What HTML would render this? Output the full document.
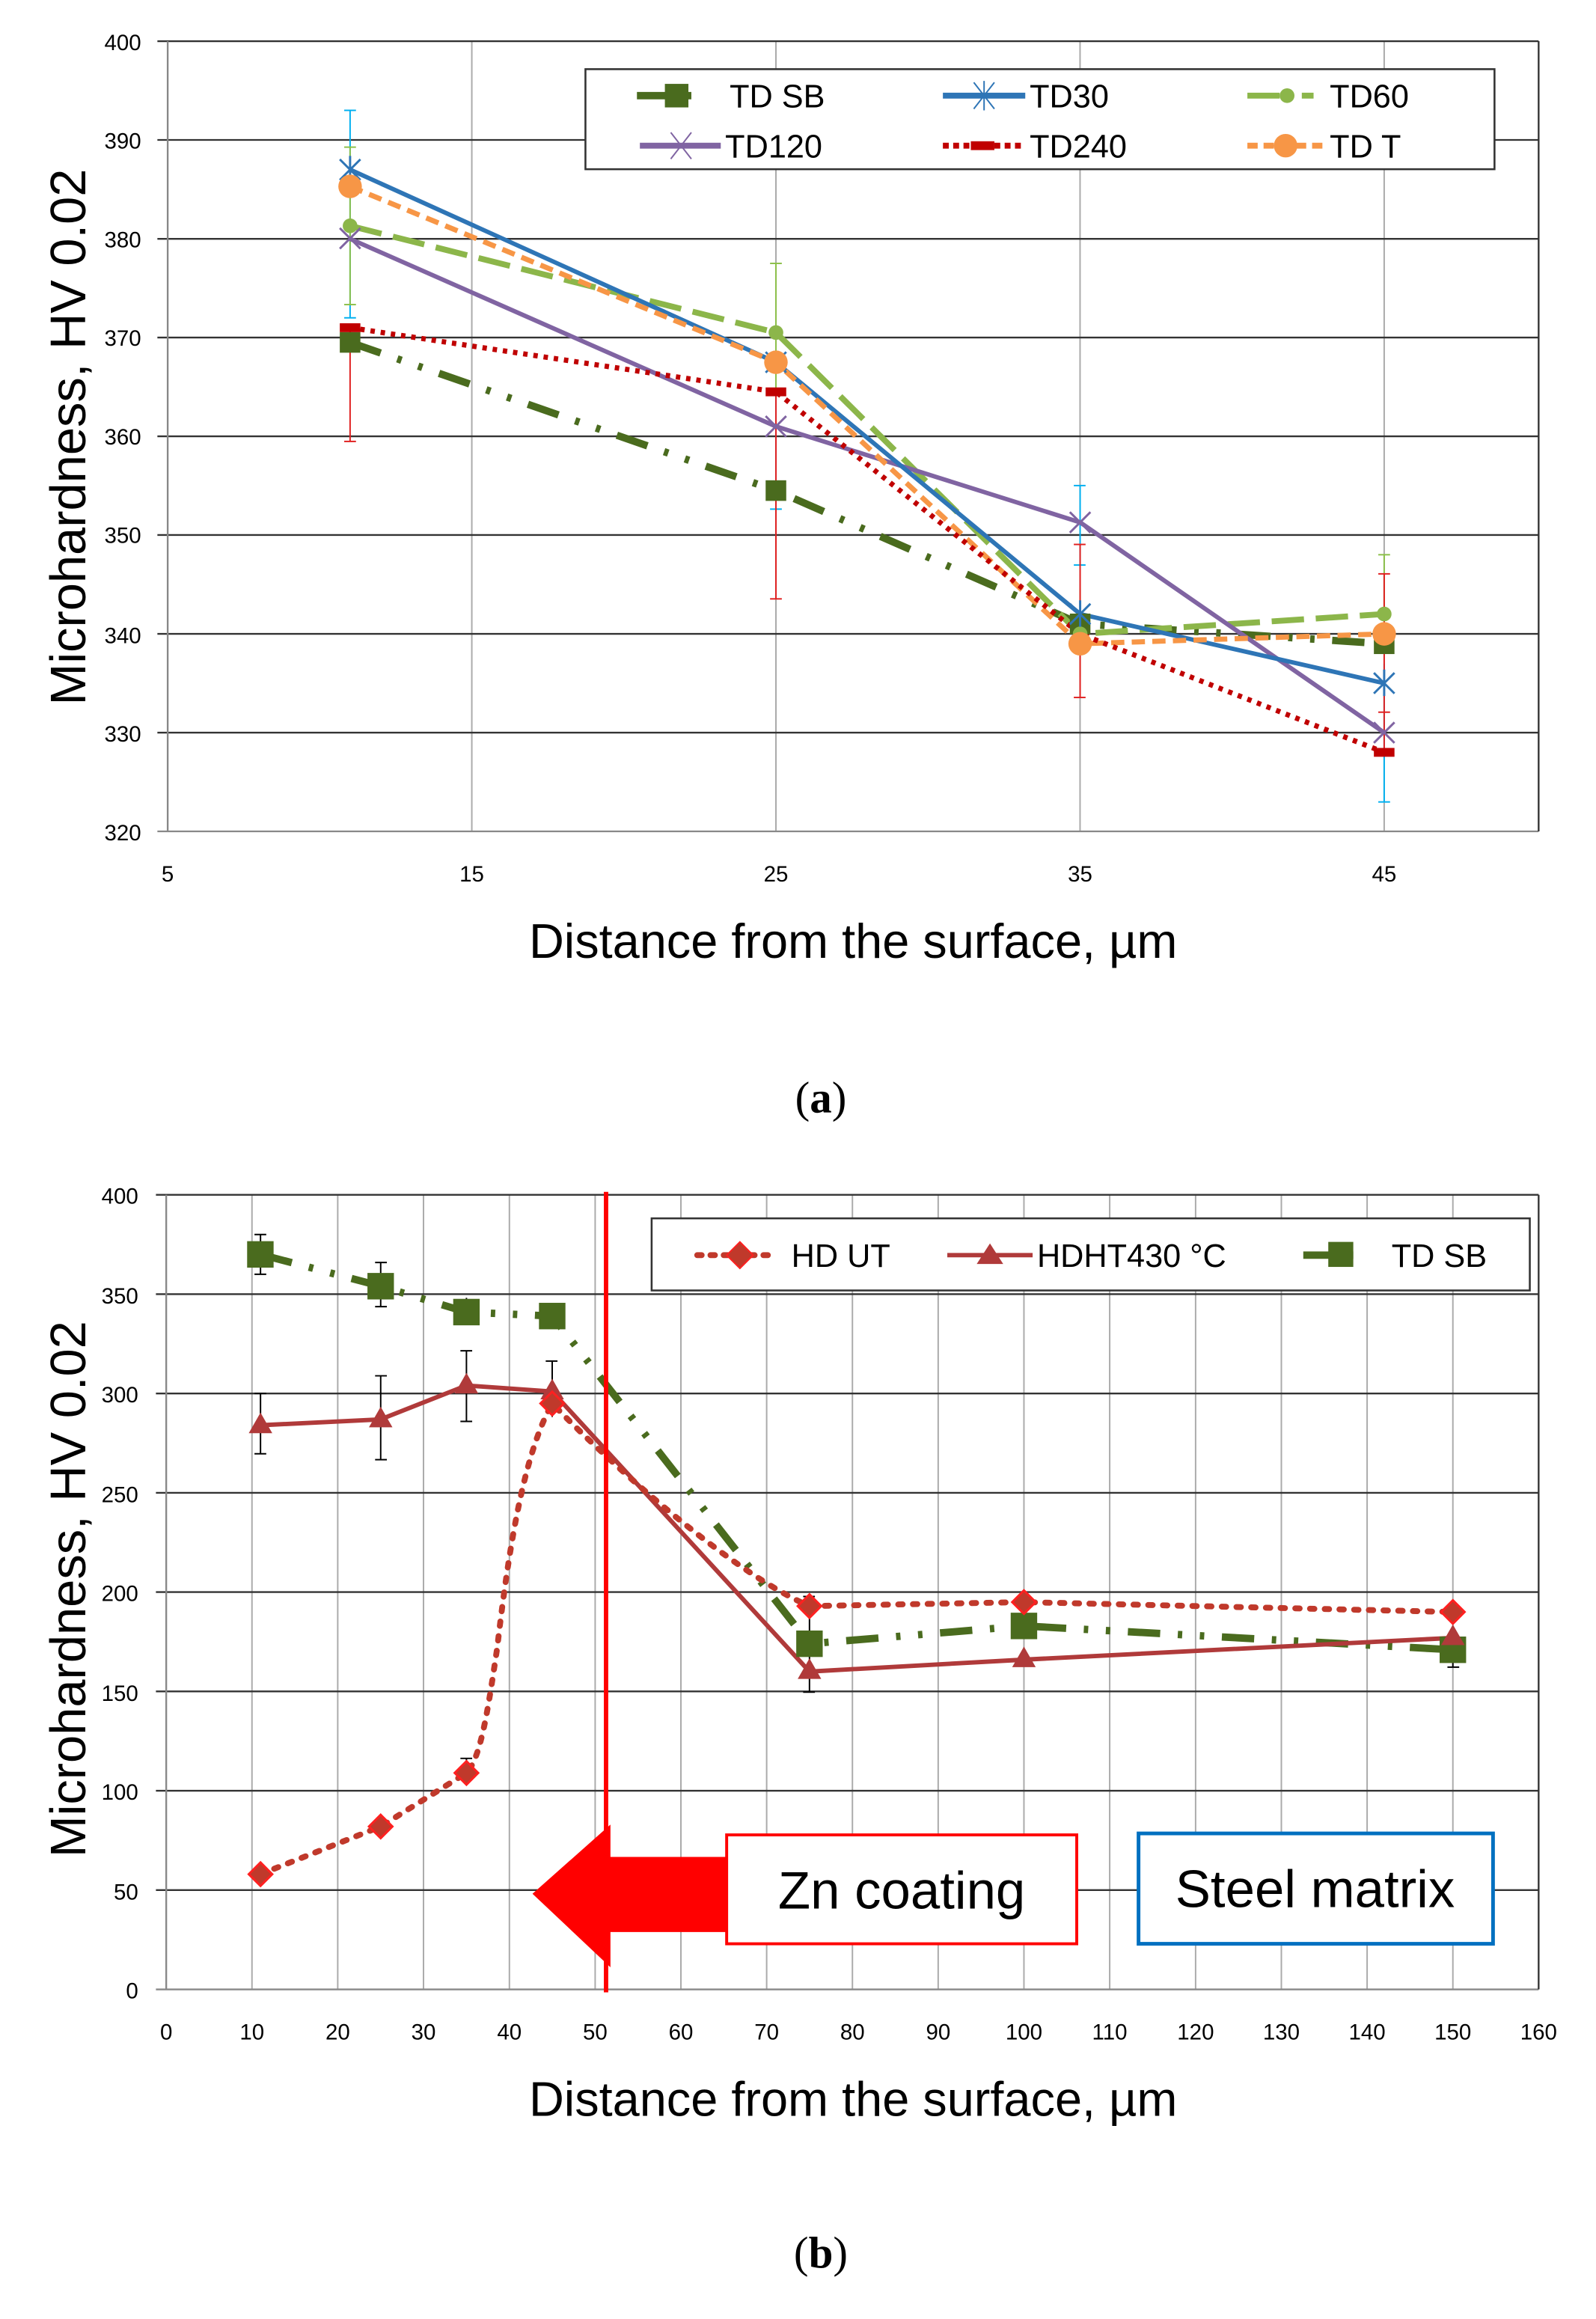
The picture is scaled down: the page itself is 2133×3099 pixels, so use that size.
<!DOCTYPE html>
<html><head><meta charset="utf-8"><style>
html,body{margin:0;padding:0;background:#fff;}
svg{display:block;}
text{font-family:"Liberation Sans",sans-serif;}
</style></head><body>
<svg width="2133" height="3099" viewBox="0 0 1085 1576" preserveAspectRatio="none" xmlns="http://www.w3.org/2000/svg">
<rect width="1085" height="1576" fill="#fff"/>
<!-- ===== TOP CHART ===== -->
<g stroke="#aaa" stroke-width="1">
<line x1="320.75" y1="28" x2="320.75" y2="565"/><line x1="527.5" y1="28" x2="527.5" y2="565"/><line x1="734.25" y1="28" x2="734.25" y2="565"/><line x1="941" y1="28" x2="941" y2="565"/>
</g>
<g stroke="#333" stroke-width="1.2">
<line x1="107" y1="28" x2="1046" y2="28"/><line x1="107" y1="95.1" x2="1046" y2="95.1"/><line x1="107" y1="162.3" x2="1046" y2="162.3"/><line x1="107" y1="229.4" x2="1046" y2="229.4"/><line x1="107" y1="296.5" x2="1046" y2="296.5"/><line x1="107" y1="363.6" x2="1046" y2="363.6"/><line x1="107" y1="430.8" x2="1046" y2="430.8"/><line x1="107" y1="497.9" x2="1046" y2="497.9"/>
<line x1="107" y1="565" x2="1046" y2="565" stroke="#888"/>
<line x1="114" y1="28" x2="114" y2="565" stroke="#888"/><line x1="1046" y1="28" x2="1046" y2="565"/>
</g>
<g font-size="15" fill="#000" text-anchor="end">
<text x="96" y="34">400</text><text x="96" y="101">390</text><text x="96" y="168">380</text><text x="96" y="235">370</text><text x="96" y="302">360</text><text x="96" y="369">350</text><text x="96" y="437">340</text><text x="96" y="504">330</text><text x="96" y="571">320</text>
</g>
<g font-size="15" fill="#000" text-anchor="middle">
<text x="114" y="599">5</text><text x="320.75" y="599">15</text><text x="527.5" y="599">25</text><text x="734.25" y="599">35</text><text x="941" y="599">45</text>
</g>
<text x="58" y="297" font-size="34" text-anchor="middle" transform="rotate(-90 58 297)">Microhardness, HV 0.02</text>
<text x="580" y="651" font-size="33" text-anchor="middle">Distance from the surface, µm</text>
<text x="558" y="756" font-size="30" text-anchor="middle" style="font-family:'Liberation Serif',serif">(<tspan font-weight="bold">a</tspan>)</text>
<!-- error bars -->
<g stroke-width="1">
<g stroke="#00b0f0"><line x1="238" y1="75" x2="238" y2="216"/><line x1="234" y1="75" x2="242" y2="75"/><line x1="234" y1="216" x2="242" y2="216"/>
<line x1="527.5" y1="262" x2="527.5" y2="346"/><line x1="523.5" y1="346" x2="531.5" y2="346"/>
<line x1="734.3" y1="330" x2="734.3" y2="384"/><line x1="730" y1="330" x2="738" y2="330"/><line x1="730" y1="384" x2="738" y2="384"/>
<line x1="941" y1="451" x2="941" y2="545"/><line x1="937" y1="545" x2="945" y2="545"/></g>
<g stroke="#8cc04a"><line x1="238" y1="100" x2="238" y2="207"/><line x1="234" y1="100" x2="242" y2="100"/><line x1="234" y1="207" x2="242" y2="207"/>
<line x1="527.5" y1="179" x2="527.5" y2="270"/><line x1="523.5" y1="179" x2="531.5" y2="179"/>
<line x1="734.3" y1="400" x2="734.3" y2="460"/><line x1="941" y1="377" x2="941" y2="430"/><line x1="937" y1="377" x2="945" y2="377"/></g>
<g stroke="#e02020"><line x1="238" y1="222" x2="238" y2="300"/><line x1="234" y1="300" x2="242" y2="300"/>
<line x1="527.5" y1="266" x2="527.5" y2="407"/><line x1="523.5" y1="407" x2="531.5" y2="407"/>
<line x1="734.3" y1="370" x2="734.3" y2="474"/><line x1="730" y1="474" x2="738" y2="474"/><line x1="730" y1="370" x2="738" y2="370"/>
<line x1="941" y1="390" x2="941" y2="511"/><line x1="937" y1="390" x2="945" y2="390"/><line x1="937" y1="484" x2="945" y2="484"/></g>
</g>
<!-- series -->
<polyline points="238,232.7 527.5,333.4 734.3,424 941,437.5" fill="none" stroke="#4a6b1e" stroke-width="5" stroke-dasharray="22,12,3,12,3,12"/>
<polyline points="238,153.5 527.5,226 734.3,430.8 941,417.3" fill="none" stroke="#8cb64a" stroke-width="4" stroke-dasharray="22,8"/>
<polyline points="238,162.3 527.5,289.8 734.3,355 941,497.9" fill="none" stroke="#8064a2" stroke-width="3"/>
<polyline points="238,115.3 527.5,246.2 734.3,417.3 941,464.3" fill="none" stroke="#2e75b6" stroke-width="3"/>
<polyline points="238,126.7 527.5,246.2 734.3,437.5 941,430.8" fill="none" stroke="#f79646" stroke-width="3.5" stroke-dasharray="9,5"/>
<polyline points="238,222.7 527.5,266.3 734.3,430.8 941,511.3" fill="none" stroke="#c00000" stroke-width="3.5" stroke-dasharray="3,4"/>
<!-- markers -->
<g fill="#4a6b1e"><rect x="231" y="225.7" width="14" height="14"/><rect x="520.5" y="326.4" width="14" height="14"/><rect x="727.3" y="417" width="14" height="14"/><rect x="934" y="430.5" width="14" height="14"/></g>
<g fill="#8cb64a"><circle cx="238" cy="153.5" r="5"/><circle cx="527.5" cy="226" r="5"/><circle cx="734.3" cy="430.8" r="5"/><circle cx="941" cy="417.3" r="5"/></g>
<g stroke="#8064a2" stroke-width="1.5"><path d="M231,155l14,14M245,155l-14,14M520.5,282.8l14,14M534.5,282.8l-14,14M727.3,348l14,14M741.3,348l-14,14M934,490.9l14,14M948,490.9l-14,14"/></g>
<g stroke="#2e75b6" stroke-width="1.5"><path d="M231,108.3l14,14M245,108.3l-14,14M238,106v18M520.5,239.2l14,14M534.5,239.2l-14,14M727.3,410.3l14,14M741.3,410.3l-14,14M734.3,408v18M934,457.3l14,14M948,457.3l-14,14M941,455v18"/></g>
<g fill="#f79646"><circle cx="238" cy="126.7" r="8"/><circle cx="527.5" cy="246.2" r="8"/><circle cx="734.3" cy="437.5" r="8"/><circle cx="941" cy="430.8" r="8"/></g>
<g fill="#c00000"><rect x="231" y="219.7" width="14" height="6"/><rect x="520.5" y="263.3" width="14" height="6"/><rect x="934" y="508.3" width="14" height="6"/></g>
<!-- legend -->
<rect x="398" y="47" width="618" height="68" fill="#fff" stroke="#333" stroke-width="1.3"/>
<g font-size="22" fill="#000">
<line x1="433" y1="65" x2="470" y2="65" stroke="#4a6b1e" stroke-width="5"/><rect x="452" y="57" width="16" height="16" fill="#4a6b1e"/><text x="496" y="73">TD SB</text>
<line x1="641" y1="65" x2="697" y2="65" stroke="#2e75b6" stroke-width="4"/><path d="M662,56l14,18M676,56l-14,18M669,55v20" stroke="#2e75b6" stroke-width="1"/><text x="700" y="73">TD30</text>
<line x1="848" y1="65" x2="870" y2="65" stroke="#8cb64a" stroke-width="4"/><circle cx="875" cy="65" r="5" fill="#8cb64a"/><line x1="885" y1="65" x2="893" y2="65" stroke="#8cb64a" stroke-width="4"/><text x="904" y="73">TD60</text>
<line x1="435" y1="99" x2="490" y2="99" stroke="#8064a2" stroke-width="4"/><path d="M456,90l14,18M470,90l-14,18" stroke="#8064a2" stroke-width="1"/><text x="493" y="107">TD120</text>
<line x1="641" y1="99" x2="697" y2="99" stroke="#c00000" stroke-width="4" stroke-dasharray="4,3"/><rect x="660" y="96" width="16" height="6" fill="#c00000"/><text x="700" y="107">TD240</text>
<line x1="848" y1="99" x2="900" y2="99" stroke="#f79646" stroke-width="4" stroke-dasharray="7,4"/><circle cx="874" cy="99" r="8" fill="#f79646"/><text x="904" y="107">TD T</text>
</g>

<!-- ===== BOTTOM CHART ===== -->
<g stroke="#aaa" stroke-width="1">
<line x1="171.3" y1="812" x2="171.3" y2="1352"/><line x1="229.6" y1="812" x2="229.6" y2="1352"/><line x1="287.9" y1="812" x2="287.9" y2="1352"/><line x1="346.3" y1="812" x2="346.3" y2="1352"/><line x1="404.6" y1="812" x2="404.6" y2="1352"/><line x1="462.9" y1="812" x2="462.9" y2="1352"/><line x1="521.2" y1="812" x2="521.2" y2="1352"/><line x1="579.5" y1="812" x2="579.5" y2="1352"/><line x1="637.8" y1="812" x2="637.8" y2="1352"/><line x1="696.1" y1="812" x2="696.1" y2="1352"/><line x1="754.4" y1="812" x2="754.4" y2="1352"/><line x1="812.8" y1="812" x2="812.8" y2="1352"/><line x1="871.1" y1="812" x2="871.1" y2="1352"/><line x1="929.4" y1="812" x2="929.4" y2="1352"/><line x1="987.7" y1="812" x2="987.7" y2="1352"/>
</g>
<g stroke="#333" stroke-width="1.2">
<line x1="106" y1="812" x2="1046" y2="812"/><line x1="106" y1="879.5" x2="1046" y2="879.5"/><line x1="106" y1="947" x2="1046" y2="947"/><line x1="106" y1="1014.5" x2="1046" y2="1014.5"/><line x1="106" y1="1082" x2="1046" y2="1082"/><line x1="106" y1="1149.5" x2="1046" y2="1149.5"/><line x1="106" y1="1217" x2="1046" y2="1217"/><line x1="106" y1="1284.5" x2="1046" y2="1284.5"/>
<line x1="106" y1="1352" x2="1046" y2="1352" stroke="#888"/><line x1="113" y1="812" x2="113" y2="1352" stroke="#888"/><line x1="1046" y1="812" x2="1046" y2="1352"/>
</g>
<g font-size="15" fill="#000" text-anchor="end">
<text x="94" y="818">400</text><text x="94" y="886">350</text><text x="94" y="953">300</text><text x="94" y="1021">250</text><text x="94" y="1088">200</text><text x="94" y="1156">150</text><text x="94" y="1223">100</text><text x="94" y="1291">50</text><text x="94" y="1358">0</text>
</g>
<g font-size="15" fill="#000" text-anchor="middle">
<text x="113" y="1386">0</text><text x="171.3" y="1386">10</text><text x="229.6" y="1386">20</text><text x="287.9" y="1386">30</text><text x="346.3" y="1386">40</text><text x="404.6" y="1386">50</text><text x="462.9" y="1386">60</text><text x="521.2" y="1386">70</text><text x="579.5" y="1386">80</text><text x="637.8" y="1386">90</text><text x="696.1" y="1386">100</text><text x="754.4" y="1386">110</text><text x="812.8" y="1386">120</text><text x="871.1" y="1386">130</text><text x="929.4" y="1386">140</text><text x="987.7" y="1386">150</text><text x="1046" y="1386">160</text>
</g>
<text x="58" y="1080" font-size="34" text-anchor="middle" transform="rotate(-90 58 1080)">Microhardness, HV 0.02</text>
<text x="580" y="1438" font-size="33" text-anchor="middle">Distance from the surface, µm</text>
<text x="558" y="1541" font-size="30" text-anchor="middle" style="font-family:'Liberation Serif',serif">(<tspan font-weight="bold">b</tspan>)</text>
<!-- error bars black -->
<g stroke="#000" stroke-width="1">
<path d="M177.1,839v27M173,839h8M173,866h8M258.8,858v30M255,858h8M255,888h8M317.1,882v17M375.4,888v12M177.1,947v41M173,947h8M173,988h8M258.8,935v57M255,935h8M255,992h8M317.1,918v48M313,918h8M313,966h8M375.4,925v38M371,925h8M550.3,1085v65M546,1085h8M546,1150h8M987.7,1108v25M984,1133h8M317.1,1195v18M313,1195h8M258.8,1234v15M177.1,1267v12"/>
</g>
<!-- series -->
<polyline points="177.1,852.5 258.8,874.1 317.1,891.7 375.4,894.4 550.3,1117.1 696.1,1105 987.7,1121.2" fill="none" stroke="#4a6b1e" stroke-width="5" stroke-dasharray="22,12,3,12,3,12"/>
<polyline points="177.1,968.6 258.8,964.6 317.1,941.6 375.4,945.7 550.3,1136 696.1,1127.9 987.7,1113.1" fill="none" stroke="#b03a3a" stroke-width="3"/>
<path d="M177.1,1273.7 L258.8,1241.3 L317.1,1204.9 C327,1195 332,1160 338,1120 C345,1060 355,990 375.4,953.8 C420,1000 500,1070 550.3,1091.5 L696.1,1088.8 L987.7,1095.5" fill="none" stroke="#c0392b" stroke-width="4" stroke-dasharray="3,7" stroke-linecap="round"/>
<!-- markers -->
<g fill="#4a6b1e"><rect x="168" y="843.5" width="18" height="18"/><rect x="249.8" y="865.1" width="18" height="18"/><rect x="308.1" y="882.7" width="18" height="18"/><rect x="366.4" y="885.4" width="18" height="18"/><rect x="541.3" y="1108.1" width="18" height="18"/><rect x="687.1" y="1096" width="18" height="18"/><rect x="978.7" y="1112.2" width="18" height="18"/></g>
<g fill="#b03a3a"><path d="M177.1,960l-8,14h16z M258.8,956l-8,14h16z M317.1,933l-8,14h16z M375.4,937l-8,14h16z M550.3,1127l-8,14h16z M696.1,1119l-8,14h16z M987.7,1104l-8,14h16z"/></g>
<g fill="#c0392b" stroke="#ff2020" stroke-width="1.5"><path d="M177.1,1265.7l8,8l-8,8l-8,-8z M258.8,1233.3l8,8l-8,8l-8,-8z M317.1,1196.9l8,8l-8,8l-8,-8z M375.4,945.8l8,8l-8,8l-8,-8z M550.3,1083.5l8,8l-8,8l-8,-8z M696.1,1080.8l8,8l-8,8l-8,-8z M987.7,1087.5l8,8l-8,8l-8,-8z"/></g>
<!-- red vertical line & arrow -->
<line x1="412" y1="810" x2="412" y2="1354" stroke="#f00" stroke-width="3"/>
<path d="M362,1287 L415,1240 L415,1262 L494,1262 L494,1313 L415,1313 L415,1337 Z" fill="#f00"/>
<rect x="494" y="1247" width="238" height="74" fill="#fff" stroke="#f00" stroke-width="2"/>
<text x="613" y="1297" font-size="36" text-anchor="middle">Zn coating</text>
<rect x="774" y="1246" width="241" height="75" fill="#fff" stroke="#0070c0" stroke-width="2.5"/>
<text x="894" y="1296" font-size="36" text-anchor="middle">Steel matrix</text>
<!-- legend -->
<rect x="443" y="828" width="597" height="49" fill="#fff" stroke="#333" stroke-width="1.3"/>
<g font-size="22" fill="#000">
<line x1="474" y1="853" x2="526" y2="853" stroke="#c0392b" stroke-width="4" stroke-dasharray="3,6" stroke-linecap="round"/><path d="M503,844l9,9l-9,9l-9,-9z" fill="#c0392b" stroke="#ff2020"/><text x="538" y="861">HD UT</text>
<line x1="644" y1="853" x2="702" y2="853" stroke="#b03a3a" stroke-width="3"/><path d="M673,845l-9,14h18z" fill="#b03a3a"/><text x="705" y="861">HDHT430 °C</text>
<line x1="886" y1="853" x2="920" y2="853" stroke="#4a6b1e" stroke-width="5"/><rect x="903" y="844" width="17" height="17" fill="#4a6b1e"/><text x="946" y="861">TD SB</text>
</g>
</svg>
</body></html>
